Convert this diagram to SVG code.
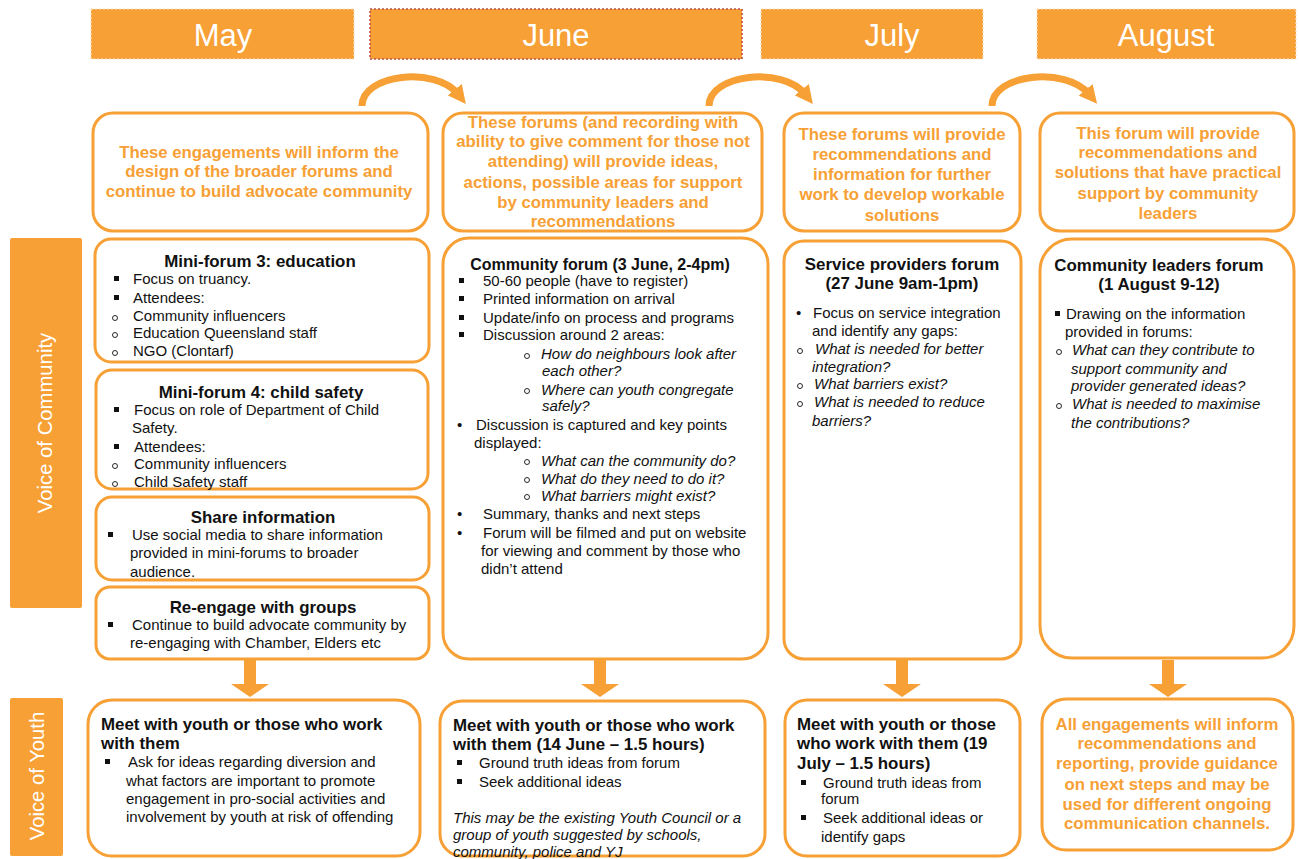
<svg xmlns="http://www.w3.org/2000/svg" width="1299" height="859" viewBox="0 0 1299 859">
<style>
.hdr{fill:#F7A035}
.hdrt{font-family:"Liberation Sans Narrow","Liberation Sans",Arial,sans-serif;font-size:31px;fill:#fff;text-anchor:middle}
.box{fill:#fff;stroke:#F7A035;stroke-width:3}
.ot{font-family:"Liberation Sans",Arial,sans-serif;font-size:16.8px;font-weight:bold;fill:#F7A035;text-anchor:middle}
.t{font-family:"Liberation Sans",Arial,sans-serif;font-size:15px;fill:#111}
.i{font-style:italic}
.b{font-family:"Liberation Sans",Arial,sans-serif;font-size:16.9px;font-weight:bold;fill:#111}
.c{text-anchor:middle}
.side{fill:#F7A035}
.sidet{font-family:"Liberation Sans",Arial,sans-serif;font-size:20.3px;fill:#fff;text-anchor:middle}
.sq{fill:#111}
.ci{fill:none;stroke:#111;stroke-width:0.9}
.arc{fill:none;stroke:#F7A035;stroke-width:7}
.dn{fill:#F7A035}
</style>
<defs>
<marker id="ah" viewBox="0 0 10 10" refX="3" refY="5" markerWidth="2.6" markerHeight="2.6" orient="auto" markerUnits="strokeWidth">
<path d="M0,0 L10,5 L0,10 z" fill="#F7A035"/>
</marker>
</defs>

<g id="month-may">
<rect class="hdr" x="91" y="9" width="263" height="50" stroke="#FBE2C4" stroke-width="1.2" stroke-dasharray="2,2"/>
<text class="hdrt" x="223" y="46">May</text>
</g>
<g id="month-june">
<rect class="hdr" x="370" y="9" width="372" height="50" stroke="#C0504D" stroke-width="1.6" stroke-dasharray="2,2"/>
<text class="hdrt" x="556" y="46">June</text>
</g>
<g id="month-july">
<rect class="hdr" x="761" y="9" width="222" height="50" stroke="#FBE2C4" stroke-width="1.2" stroke-dasharray="2,2"/>
<text class="hdrt" x="892" y="46">July</text>
</g>
<g id="month-august">
<rect class="hdr" x="1037" y="9" width="259" height="50" stroke="#FBE2C4" stroke-width="1.2" stroke-dasharray="2,2"/>
<text class="hdrt" x="1166" y="46">August</text>
</g>

<g id="side-community">
<rect class="side" x="10" y="238" width="72" height="370" rx="2"/>
<text class="sidet" transform="translate(45,423) rotate(-90)" dy="7">Voice of Community</text>
</g>
<g id="side-youth">
<rect class="side" x="10" y="698" width="53" height="158" rx="2"/>
<text class="sidet" transform="translate(37,776) rotate(-90)" dy="7">Voice of Youth</text>
</g>

<g id="connectors">
<path class="arc" d="M362,106 C362,74 436,66 458,94" marker-end="url(#ah)"/>
<path class="arc" d="M709,106 C709,74 783,66 805,94" marker-end="url(#ah)"/>
<path class="arc" d="M992,106 C992,74 1066,66 1089,94" marker-end="url(#ah)"/>
<path class="dn" d="M244,660 h12 v24 h13 l-19,13 l-19,-13 h13 z"/>
<path class="dn" d="M594,660 h12 v24 h13 l-19,13 l-19,-13 h13 z"/>
<path class="dn" d="M896,660 h12 v24 h13 l-19,13 l-19,-13 h13 z"/>
<path class="dn" d="M1162,660 h12 v24 h13 l-19,13 l-19,-13 h13 z"/>
</g>

<g id="intro-may">
<rect class="box" x="93" y="113" width="335" height="118" rx="20"/>
<text class="ot" x="259" y="158">These engagements will inform the</text>
<text class="ot" x="259" y="177">design of the broader forums and</text>
<text class="ot" x="259" y="197">continue to build advocate community</text>
</g>
<g id="intro-june">
<rect class="box" x="443" y="113" width="319" height="118" rx="20"/>
<text class="ot" x="603" y="128">These forums (and recording with</text>
<text class="ot" x="603" y="147">ability to give comment for those not</text>
<text class="ot" x="603" y="167">attending) will provide ideas,</text>
<text class="ot" x="603" y="188">actions, possible areas for support</text>
<text class="ot" x="603" y="208">by community leaders and</text>
<text class="ot" x="603" y="227">recommendations</text>
</g>
<g id="intro-july">
<rect class="box" x="784" y="113" width="236" height="118" rx="20"/>
<text class="ot" x="902" y="140">These forums will provide</text>
<text class="ot" x="902" y="160">recommendations and</text>
<text class="ot" x="902" y="180">information for further</text>
<text class="ot" x="902" y="200">work to develop workable</text>
<text class="ot" x="902" y="221">solutions</text>
</g>
<g id="intro-august">
<rect class="box" x="1040" y="113" width="254" height="118" rx="20"/>
<text class="ot" x="1168" y="139">This forum will provide</text>
<text class="ot" x="1168" y="158">recommendations and</text>
<text class="ot" x="1168" y="178">solutions that have practical</text>
<text class="ot" x="1168" y="199">support by community</text>
<text class="ot" x="1168" y="219">leaders</text>
</g>

<g id="mini-forum-3">
<rect class="box" x="95" y="239" width="334" height="123" rx="16"/>
<text class="b c" x="260" y="267">Mini-forum 3: education</text>
<rect class="sq" x="114" y="276" width="5" height="5"/><text class="t" x="133" y="284">Focus on truancy.</text>
<rect class="sq" x="114" y="295" width="5" height="5"/><text class="t" x="133" y="303">Attendees:</text>
<circle class="ci" cx="115" cy="318" r="2.5"/><text class="t" x="133" y="321">Community influencers</text>
<circle class="ci" cx="115" cy="335" r="2.5"/><text class="t" x="133" y="338">Education Queensland staff</text>
<circle class="ci" cx="115" cy="353" r="2.5"/><text class="t" x="133" y="356">NGO (Clontarf)</text>
</g>
<g id="mini-forum-4">
<rect class="box" x="96" y="370" width="332" height="119" rx="16"/>
<text class="b c" x="261" y="398">Mini-forum 4: child safety</text>
<rect class="sq" x="114" y="407" width="5" height="5"/><text class="t" x="134" y="415">Focus on role of Department of Child</text>
<text class="t" x="132" y="433">Safety.</text>
<rect class="sq" x="114" y="444" width="5" height="5"/><text class="t" x="134" y="452">Attendees:</text>
<circle class="ci" cx="115" cy="466" r="2.5"/><text class="t" x="134" y="469">Community influencers</text>
<circle class="ci" cx="115" cy="484" r="2.5"/><text class="t" x="134" y="487">Child Safety staff</text>
</g>
<g id="share-information">
<rect class="box" x="96" y="497" width="333" height="83" rx="16"/>
<text class="b c" x="263" y="523">Share information</text>
<rect class="sq" x="108" y="532" width="5" height="5"/><text class="t" x="132" y="540">Use social media to share information</text>
<text class="t" x="130" y="558">provided in mini-forums to broader</text>
<text class="t" x="130" y="577">audience.</text>
</g>
<g id="re-engage">
<rect class="box" x="96" y="587" width="333" height="72" rx="14"/>
<text class="b c" x="263" y="613">Re-engage with groups</text>
<rect class="sq" x="108" y="622" width="5" height="5"/><text class="t" x="132" y="630">Continue to build advocate community by</text>
<text class="t" x="130" y="648">re-engaging with Chamber, Elders etc</text>
</g>

<g id="community-forum">
<rect class="box" x="443" y="238" width="325" height="421" rx="26"/>
<text class="b c" x="600" y="270" style="font-size:16px">Community forum (3 June, 2-4pm)</text>
<rect class="sq" x="459" y="278" width="5" height="5"/><text class="t" x="483" y="286">50-60 people (have to register)</text>
<rect class="sq" x="459" y="296" width="5" height="5"/><text class="t" x="483" y="304">Printed information on arrival</text>
<rect class="sq" x="459" y="315" width="5" height="5"/><text class="t" x="483" y="323">Update/info on process and programs</text>
<rect class="sq" x="459" y="332" width="5" height="5"/><text class="t" x="483" y="340">Discussion around 2 areas:</text>
<circle class="ci" cx="527" cy="356" r="2.5"/><text class="t i" x="541" y="359">How do neighbours look after</text>
<text class="t i" x="542" y="376">each other?</text>
<circle class="ci" cx="527" cy="391" r="2.5"/><text class="t i" x="541" y="395">Where can youth congregate</text>
<text class="t i" x="542" y="411">safely?</text>
<text class="t" x="457" y="430">•</text><text class="t" x="476" y="430">Discussion is captured and key points</text>
<text class="t" x="474" y="448">displayed:</text>
<circle class="ci" cx="527" cy="462" r="2.5"/><text class="t i" x="541" y="466">What can the community do?</text>
<circle class="ci" cx="527" cy="480" r="2.5"/><text class="t i" x="541" y="484">What do they need to do it?</text>
<circle class="ci" cx="527" cy="497" r="2.5"/><text class="t i" x="541" y="501">What barriers might exist?</text>
<text class="t" x="457" y="519">•</text><text class="t" x="483" y="519">Summary, thanks and next steps</text>
<text class="t" x="457" y="538">•</text><text class="t" x="483" y="538">Forum will be filmed and put on website</text>
<text class="t" x="481" y="556">for viewing and comment by those who</text>
<text class="t" x="481" y="574">didn’t attend</text>
</g>

<g id="service-providers-forum">
<rect class="box" x="784" y="241" width="237" height="418" rx="20"/>
<text class="b c" x="902" y="270">Service providers forum</text>
<text class="b c" x="902" y="289">(27 June 9am-1pm)</text>
<text class="t" x="796" y="318">•</text><text class="t" x="813" y="318">Focus on service integration</text>
<text class="t" x="812" y="336">and identify any gaps:</text>
<circle class="ci" cx="800" cy="351" r="2.5"/><text class="t i" x="815" y="354">What is needed for better</text>
<text class="t i" x="812" y="372">integration?</text>
<circle class="ci" cx="800" cy="386" r="2.5"/><text class="t i" x="814" y="389">What barriers exist?</text>
<circle class="ci" cx="800" cy="404" r="2.5"/><text class="t i" x="814" y="407">What is needed to reduce</text>
<text class="t i" x="812" y="426">barriers?</text>
</g>

<g id="community-leaders-forum">
<rect class="box" x="1040" y="239" width="254" height="419" rx="32"/>
<text class="b c" x="1159" y="271">Community leaders forum</text>
<text class="b c" x="1159" y="290">(1 August 9-12)</text>
<rect class="sq" x="1055" y="311" width="5" height="5"/><text class="t" x="1066" y="319">Drawing on the information</text>
<text class="t" x="1065" y="337">provided in forums:</text>
<circle class="ci" cx="1059" cy="352" r="2.5"/><text class="t i" x="1072" y="355">What can they contribute to</text>
<text class="t i" x="1071" y="374">support community and</text>
<text class="t i" x="1071" y="391">provider generated ideas?</text>
<circle class="ci" cx="1059" cy="406" r="2.5"/><text class="t i" x="1072" y="409">What is needed to maximise</text>
<text class="t i" x="1071" y="428">the contributions?</text>
</g>

<g id="youth-may">
<rect class="box" x="88" y="700" width="332" height="156" rx="24"/>
<text class="b" x="101" y="730">Meet with youth or those who work</text>
<text class="b" x="101" y="749">with them</text>
<rect class="sq" x="105" y="759" width="5" height="5"/><text class="t" x="128" y="767">Ask for ideas regarding diversion and</text>
<text class="t" x="126" y="786">what factors are important to promote</text>
<text class="t" x="126" y="804">engagement in pro-social activities and</text>
<text class="t" x="126" y="822">involvement by youth at risk of offending</text>
</g>
<g id="youth-june">
<rect class="box" x="440" y="701" width="325" height="155" rx="22"/>
<text class="b" x="453" y="731">Meet with youth or those who work</text>
<text class="b" x="453" y="750">with them (14 June – 1.5 hours)</text>
<rect class="sq" x="457" y="760" width="5" height="5"/><text class="t" x="479" y="768">Ground truth ideas from forum</text>
<rect class="sq" x="457" y="779" width="5" height="5"/><text class="t" x="479" y="787">Seek additional ideas</text>
<text class="t i" x="453" y="823">This may be the existing Youth Council or a</text>
<text class="t i" x="453" y="840">group of youth suggested by schools,</text>
<text class="t i" x="453" y="857">community, police and YJ</text>
</g>
<g id="youth-july">
<rect class="box" x="785" y="700" width="235" height="156" rx="22"/>
<text class="b" x="797" y="730">Meet with youth or those</text>
<text class="b" x="797" y="749">who work with them (19</text>
<text class="b" x="797" y="769">July – 1.5 hours)</text>
<rect class="sq" x="801" y="780" width="5" height="5"/><text class="t" x="823" y="788">Ground truth ideas from</text>
<text class="t" x="821" y="804">forum</text>
<rect class="sq" x="801" y="815" width="5" height="5"/><text class="t" x="823" y="823">Seek additional ideas or</text>
<text class="t" x="821" y="842">identify gaps</text>
</g>
<g id="youth-august">
<rect class="box" x="1042" y="699" width="251" height="151" rx="24" stroke-width="4"/>
<text class="ot" x="1167" y="730">All engagements will inform</text>
<text class="ot" x="1167" y="749">recommendations and</text>
<text class="ot" x="1167" y="769">reporting, provide guidance</text>
<text class="ot" x="1167" y="790">on next steps and may be</text>
<text class="ot" x="1167" y="810">used for different ongoing</text>
<text class="ot" x="1167" y="829">communication channels.</text>
</g>
</svg>
